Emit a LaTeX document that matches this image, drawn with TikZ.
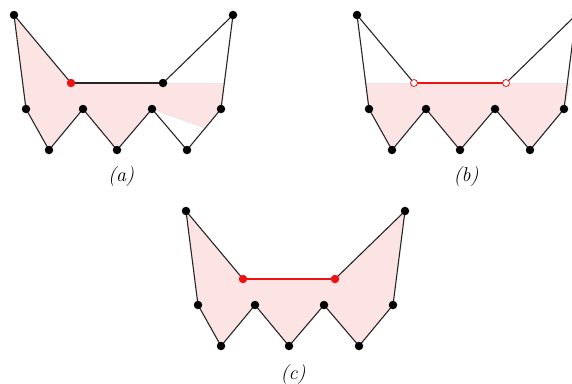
\documentclass[tikz,border=0pt]{standalone}
\usetikzlibrary{calc}
\definecolor{pinkfill}{RGB}{253,228,228}
\definecolor{faint}{RGB}{232,232,232}
\definecolor{redpt}{RGB}{235,20,20}
\tikzset{
  edge/.style={black!85,line width=1.1pt},
  redge/.style={redpt,line width=1.1pt},
  vtx/.style={circle,fill=black,inner sep=0pt,minimum size=8.5pt},
  rvtx/.style={circle,fill=redpt,inner sep=0pt,minimum size=8.5pt},
  ovtx/.style={circle,draw=redpt,line width=0.8pt,inner sep=0pt,minimum size=7pt},
  lab/.style={font=\fontsize{20}{24}\selectfont\itshape}
}
% define shape coordinates with prefix #1 at origin (#2,#3)
\newcommand{\shapecoords}[3]{%
  \coordinate (#1TL) at (#2+0,#3+0);
  \coordinate (#1A1) at (#2+12,#3+94);
  \coordinate (#1B1) at (#2+35,#3+135);
  \coordinate (#1A2) at (#2+69,#3+94);
  \coordinate (#1B2) at (#2+103,#3+135);
  \coordinate (#1A3) at (#2+138,#3+94);
  \coordinate (#1B3) at (#2+173,#3+135);
  \coordinate (#1A4) at (#2+207,#3+94);
  \coordinate (#1TR) at (#2+219,#3+0);
  \coordinate (#1R) at (#2+149,#3+68);
  \coordinate (#1L) at (#2+57,#3+68);
}
\begin{document}
\begin{tikzpicture}[x=1pt,y=-1pt]
\useasboundingbox (0,0) rectangle (572,383);
\begin{scope}
\clip (0,0) rectangle (572,383);
\shapecoords{a}{14}{15}
\shapecoords{b}{357}{15}
\shapecoords{c}{186}{211}

% ---- panel (a) fill
\fill[pinkfill] (aTL) -- (aL) -- (aR) -- (224.3,83) -- (aA4) -- (204,128) -- (aA3) -- (aB2) -- (aA2) -- (aB1) -- (aA1) -- cycle;
\draw[faint,line width=0.6pt] (aR) -- (224.3,83);
\draw[faint,line width=0.6pt] (aA3) -- (204,128);
% ---- panel (b) fill
\fill[pinkfill] (365.7,83) -- (570.3,83) -- (bA4) -- (bB3) -- (bA3) -- (bB2) -- (bA2) -- (bB1) -- (bA1) -- cycle;
\draw[faint,line width=0.6pt] (365.7,83) -- (bL);
\draw[faint,line width=0.6pt] (bR) -- (570.3,83);
% ---- panel (c) fill
\fill[pinkfill] (cTL) -- (cL) -- (cR) -- (cTR) -- (cA4) -- (cB3) -- (cA3) -- (cB2) -- (cA2) -- (cB1) -- (cA1) -- cycle;

% ---- edges
\foreach \p in {a,b,c}{
  \draw[edge] (\p TL) -- (\p A1) -- (\p B1) -- (\p A2) -- (\p B2) -- (\p A3) -- (\p B3) -- (\p A4) -- (\p TR) -- (\p R);
  \draw[edge] (\p TL) -- (\p L);
}
\draw[edge] (aL) -- (aR);
\draw[redge] (bL) -- (bR);
\draw[redge] (cL) -- (cR);

% ---- vertices
\foreach \p in {a,b,c}{
  \foreach \v in {TL,A1,B1,A2,B2,A3,B3,A4,TR}{
    \node[vtx] (\p\v n) at (\p\v) {};
  }
}
\node[rvtx] (aLn) at (aL) {};
\node[vtx] (aRn) at (aR) {};
\node[ovtx,fill=white] (bLn) at (bL) {};
\node[ovtx,fill=white] (bRn) at (bR) {};
\node[rvtx] (cLn) at (cL) {};
\node[rvtx] (cRn) at (cR) {};
\end{scope}

% ---- labels
\node[lab] (la) at (121,177) {(a)};
\node[lab] (lb) at (466,177) {(b)};
\node[lab] (lc) at (293,375) {(c)};
\end{tikzpicture}
\end{document}
